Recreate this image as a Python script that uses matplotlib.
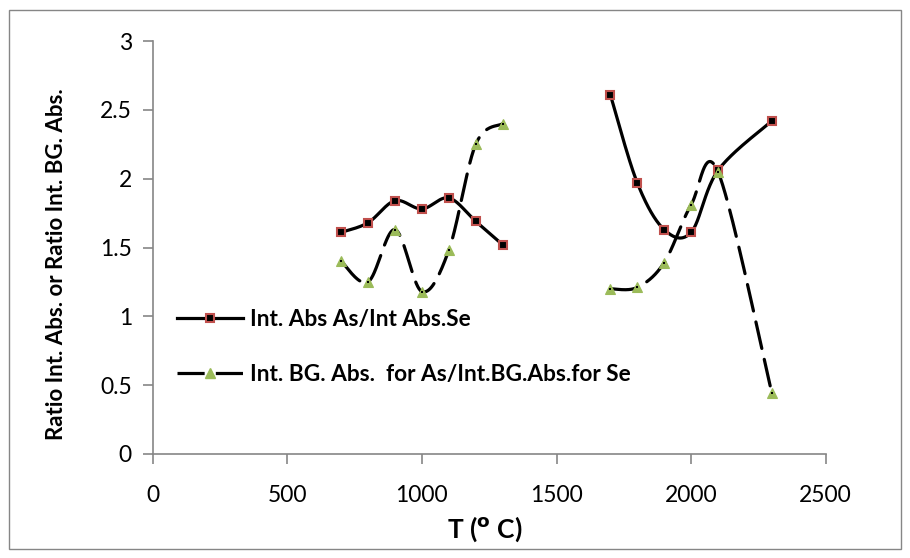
import numpy as np
import matplotlib
matplotlib.use("Agg")
import matplotlib.pyplot as plt
from matplotlib.patches import Rectangle

# ---- data ----
t_low = [700, 800, 900, 1000, 1100, 1200, 1300]
t_high = [1700, 1800, 1900, 2000, 2100, 2300]
abs_low = [1.61, 1.68, 1.84, 1.78, 1.86, 1.69, 1.52]
abs_high = [2.61, 1.97, 1.63, 1.61, 2.06, 2.42]
bg_low = [1.40, 1.25, 1.63, 1.18, 1.48, 2.25, 2.40]
bg_high = [1.20, 1.21, 1.39, 1.81, 2.05, 0.44]

label_abs = "Int. Abs As/Int Abs.Se"
label_bg = "Int. BG. Abs.  for As/Int.BG.Abs.for Se"
x_ticks = [0, 500, 1000, 1500, 2000, 2500]
y_ticks = [0, 0.5, 1, 1.5, 2, 2.5, 3]
y_ticklabels = ['0', '0.5', '1', '1.5', '2', '2.5', '3']

plt.rcParams['font.family'] = ['Lato', 'DejaVu Sans']

W, H = 910, 558
fig = plt.figure(figsize=(W / 100, H / 100), dpi=100)
L, R, B, T = 152.7, 825.7, 454, 41
ax = fig.add_axes([L / W, 1 - B / H, (R - L) / W, (B - T) / H])
ax.set_xlim(0, 2500)
ax.set_ylim(0, 3)

# scale to approximate screen pixels for the smoothing (Excel-style Bezier)
sx = (R - L) / 2500.0
sy = (B - T) / 3.0


def smooth(xs, ys, n=40):
    P = np.column_stack([np.asarray(xs, float) * sx, np.asarray(ys, float) * sy])
    m = len(P)
    out = []
    for i in range(m - 1):
        p0 = P[i - 1] if i > 0 else P[i]
        p1 = P[i]
        p2 = P[i + 1]
        p3 = P[i + 2] if i + 2 < m else P[i + 1]
        c1 = p1 + (p2 - p0) / 6.0
        c2 = p2 - (p3 - p1) / 6.0
        t = np.linspace(0, 1, n)[:, None]
        seg = ((1 - t) ** 3) * p1 + 3 * ((1 - t) ** 2) * t * c1 + 3 * (1 - t) * t ** 2 * c2 + t ** 3 * p2
        if i > 0:
            seg = seg[1:]
        out.append(seg)
    out = np.vstack(out)
    return out[:, 0] / sx, out[:, 1] / sy


red = '#C0504D'
green = '#9BBB59'
lw = 2.3

for xs, ys in [(t_low, abs_low), (t_high, abs_high)]:
    cx, cy = smooth(xs, ys)
    ax.plot(cx, cy, color='black', lw=lw, solid_capstyle='round', zorder=2)
    ax.plot(xs, ys, ls='none', marker='s', ms=5.3, mfc='black', mec=red, mew=1.5, zorder=4)

for xs, ys in [(t_low, bg_low), (t_high, bg_high)]:
    cx, cy = smooth(xs, ys)
    ax.plot(cx, cy, color='black', lw=lw, dashes=(8.5, 3.5), dash_capstyle='round', zorder=2)
    ax.plot(xs, ys, ls='none', marker='^', ms=6.5, mfc=green, mec=green, mew=0.8, zorder=4)
    ax.plot(xs, ys, ls='none', marker='s', ms=1.6, mfc='black', mec='black', mew=0, zorder=5)

# legend handles
h1, = ax.plot([], [], color='black', lw=lw, marker='s', ms=5.3, mfc='black', mec=red, mew=1.5)
h2, = ax.plot([], [], color='black', lw=lw, dashes=(8.5, 3.5), marker='^', ms=6.5, mfc=green, mec=green)
fs_leg = 16.3
fpx = fs_leg * 100 / 72
leg = ax.legend([h1, h2], [label_abs, label_bg], loc='upper left',
                bbox_to_anchor=(177 / W, 1 - 309 / H), bbox_transform=fig.transFigure,
                frameon=False, borderpad=0, borderaxespad=0, handlelength=66 / fpx,
                handletextpad=7 / fpx, labelspacing=1.52,
                prop={'weight': 'bold', 'size': fs_leg}, numpoints=1)

gray = '#868686'
for s in ['top', 'right']:
    ax.spines[s].set_visible(False)
for s in ['left', 'bottom']:
    ax.spines[s].set_color(gray)
    ax.spines[s].set_linewidth(1.2)
ax.set_xticks(x_ticks)
ax.set_yticks(y_ticks)
ax.set_yticklabels(y_ticklabels)
ax.tick_params(axis='both', colors=gray, length=7, width=1.2, direction='out',
               labelsize=16.5, labelcolor='black')
ax.tick_params(axis='x', pad=15)
ax.tick_params(axis='y', pad=8)

ax.set_xlabel(r"T ($\mathbf{^o}$ C)", fontsize=19, fontweight='bold')
ax.xaxis.set_label_coords((485 - L) / (R - L), (B - 529) / (B - T), transform=ax.transAxes)
ax.xaxis.label.set_va('center')
ax.set_ylabel("Ratio Int. Abs. or Ratio Int. BG. Abs.", fontsize=16, fontweight='bold')
ax.yaxis.set_label_coords((57 - L) / (R - L), (B - 264) / (B - T), transform=ax.transAxes)
ax.yaxis.label.set_va('center')

fig.patches.append(Rectangle((9 / W, 1 - 549 / H), 892 / W, 539 / H, transform=fig.transFigure,
                             fill=False, edgecolor=gray, lw=1.0))

fig.savefig('out.png', dpi=100)
